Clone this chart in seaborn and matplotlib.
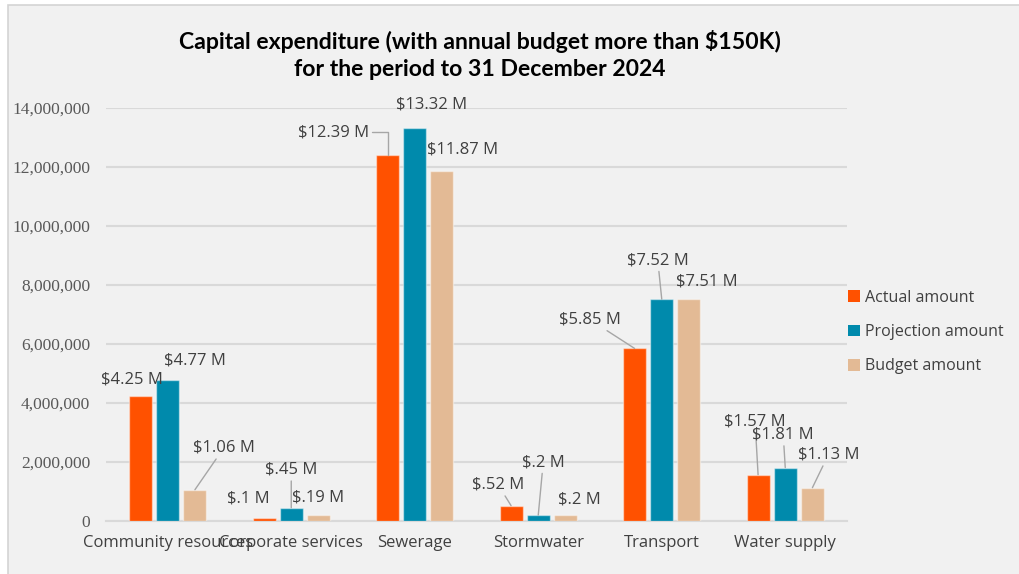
import matplotlib
matplotlib.use("Agg")
import matplotlib.pyplot as plt
from matplotlib.patches import Rectangle, Patch
from matplotlib.ticker import FuncFormatter
import seaborn as sns
import pandas as pd

# ---- data ----
categories = ["Community resources", "Corporate services", "Sewerage",
              "Stormwater", "Transport", "Water supply"]
series = ["Actual amount", "Projection amount", "Budget amount"]
actual = [4250000, 100000, 12390000, 520000, 5850000, 1570000]
projection = [4770000, 450000, 13320000, 200000, 7520000, 1810000]
budget = [1060000, 190000, 11870000, 200000, 7510000, 1130000]
y_ticks = [0, 2000000, 4000000, 6000000, 8000000, 10000000, 12000000, 14000000]

# ---- label placement (offset in pixels from bar top, leader line style) ----
label_offsets = {
    "Actual amount": [(-9, 16), (-16, 20), (-54, 23), (-13, 21), (-45, 29), (-3, 53)],
    "Projection amount": [(27, 20), (0, 38), (17, 24), (5, 53), (-4, 39), (-2, 33)],
    "Budget amount": [(29, 42), (0, 18), (21, 21), (14, 16), (18, 18), (16, 33)],
}
leaders = {
    "Actual amount": [None, None, "elbow", "line", "line", "line"],
    "Projection amount": [None, "line", None, "line", "line", "line"],
    "Budget amount": ["line", None, None, None, None, "line"],
}

colors = ["#FF5100", "#008AAC", "#E3BA95"]
text_color = "#404040"
grid_color = "#D9D9D9"

df = pd.DataFrame({
    "category": categories * 3,
    "series": [s for s in series for _ in categories],
    "value": actual + projection + budget,
})

sns.set_theme(style="white")
plt.rcParams["font.family"] = ["Open Sans", "DejaVu Sans"]

fig = plt.figure(figsize=(10.19, 5.74), dpi=100, facecolor="white")
W, H = 1019, 574

# panel background with thin border
fig.patches.append(Rectangle((8 / W, -0.05), 1.1, (H - 5) / H + 0.05,
                             transform=fig.transFigure, facecolor="#F1F1F1",
                             edgecolor="#D4D4D4", linewidth=1.2, zorder=-10))

ax = fig.add_axes([106 / W, 1 - 521 / H, (847 - 106) / W, (521 - 108) / H])
ax.set_facecolor("none")

sns.barplot(data=df, x="category", y="value", hue="series", order=categories,
            hue_order=series, palette=colors, saturation=1, width=0.66,
            gap=0.15, edgecolor=(1, 1, 1, 0.45), linewidth=1.0, errorbar=None,
            legend=False, ax=ax, zorder=3)

ax.set_ylim(0, 14000000)
ax.set_xlim(-0.5, len(categories) - 0.5)
ax.set_yticks(y_ticks)
ax.yaxis.set_major_formatter(FuncFormatter(lambda v, p: f"{int(v):,}"))
ax.grid(axis="y", color=grid_color, linewidth=1.5, zorder=0)
ax.set_axisbelow(True)
for side in ["top", "right", "left"]:
    ax.spines[side].set_visible(False)
ax.spines["bottom"].set_color(grid_color)
ax.spines["bottom"].set_linewidth(1.5)
ax.tick_params(axis="both", length=0)
ax.tick_params(axis="y", pad=11.5, labelsize=12.5, labelcolor="#595959",
               labelfontfamily="Liberation Serif")
ax.tick_params(axis="x", pad=10, labelsize=12, labelcolor=text_color)
ax.set_xlabel("")
ax.set_ylabel("")


def money(v):
    s = f"{v / 1e6:.2f}".rstrip("0").rstrip(".")
    if s.startswith("0"):
        s = s[1:]
    return f"${s} M"


# data labels with leader lines
for container, name in zip(ax.containers, series):
    for i, bar in enumerate(container):
        v = bar.get_height()
        x = bar.get_x() + bar.get_width() / 2
        dx, dy = label_offsets[name][i]
        kind = leaders[name][i]
        arrow = None
        if kind == "line":
            arrow = dict(arrowstyle="-", color="#A6A6A6", lw=1.0,
                         shrinkA=0, shrinkB=0)
        elif kind == "elbow":
            arrow = dict(arrowstyle="-", color="#A6A6A6", lw=1.0,
                         shrinkA=0, shrinkB=0, relpos=(1, 0.5),
                         connectionstyle="angle,angleA=0,angleB=90,rad=0")
        ax.annotate(money(v), xy=(x, v), xytext=(dx, dy),
                    textcoords="offset pixels", ha="center", va="center",
                    fontsize=12, color=text_color, arrowprops=arrow,
                    annotation_clip=False, zorder=5)

# legend
handles = [Patch(facecolor=c, edgecolor="none") for c in colors]
fig.legend(handles, series, loc="center left",
           bbox_to_anchor=(834 / W, 1 - 332 / H), frameon=False,
           fontsize=11.5, handlelength=0.75, handleheight=0.75,
           handletextpad=0.3, labelspacing=1.15, labelcolor=text_color)

# title
fig.text(480 / W, 1 - 55 / H,
         "Capital expenditure (with annual budget more than $150K)\n"
         "for the period to 31 December 2024",
         ha="center", va="center", fontsize=16.6, fontweight="bold",
         fontfamily="Lato", color="black", linespacing=1.4)

fig.savefig("out.png", dpi=100, facecolor=fig.get_facecolor())
